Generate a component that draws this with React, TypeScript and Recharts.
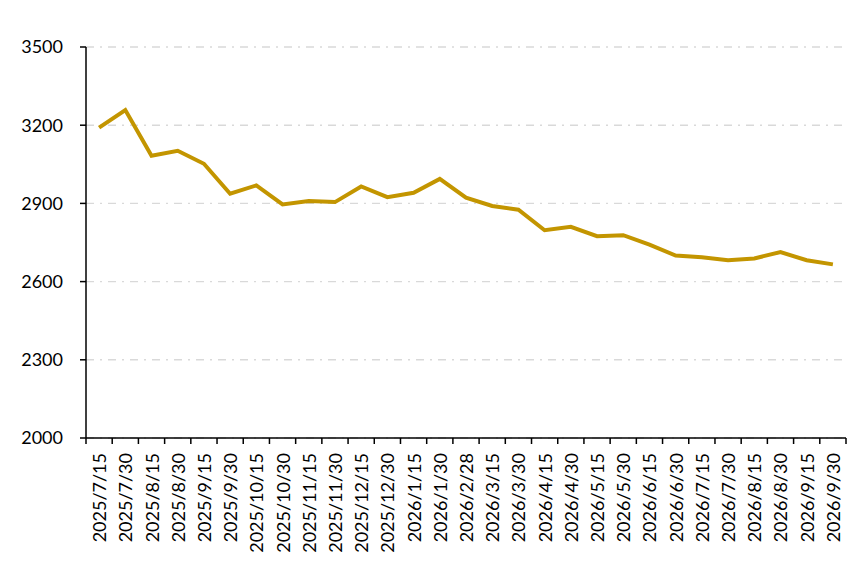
import React from "react";
import { LineChart, Line, XAxis, YAxis, CartesianGrid } from "recharts";

const dates = [
  "2025/7/15", "2025/7/30", "2025/8/15", "2025/8/30", "2025/9/15", "2025/9/30",
  "2025/10/15", "2025/10/30", "2025/11/15", "2025/11/30", "2025/12/15", "2025/12/30",
  "2026/1/15", "2026/1/30", "2026/2/28", "2026/3/15", "2026/3/30", "2026/4/15",
  "2026/4/30", "2026/5/15", "2026/5/30", "2026/6/15", "2026/6/30", "2026/7/15",
  "2026/7/30", "2026/8/15", "2026/8/30", "2026/9/15", "2026/9/30",
];

const prices = [
  3191, 3258, 3083, 3102, 3052, 2937, 2969, 2896, 2909, 2905, 2965, 2924,
  2941, 2994, 2922, 2890, 2876, 2797, 2810, 2774, 2778, 2742, 2700, 2693,
  2682, 2689, 2713, 2682, 2666,
];

const yTicks = [2000, 2300, 2600, 2900, 3200, 3500];

const data = dates.map((d, i) => ({ date: d, value: prices[i] }));

const FONT = "Lato, 'Open Sans', sans-serif";
const PLOT_LEFT = 86;
const PLOT_RIGHT = 846;
const STEP = (PLOT_RIGHT - PLOT_LEFT) / dates.length;

function DateTick(props: any) {
  const { x, y, payload, index } = props;
  const left = x - STEP / 2;
  return (
    <g>
      <line x1={left} y1={y - 8} x2={left} y2={y - 2} stroke="#000" strokeWidth={1.5} />
      {index === dates.length - 1 && (
        <line x1={x + STEP / 2} y1={y - 8} x2={x + STEP / 2} y2={y - 2} stroke="#000" strokeWidth={1.5} />
      )}
      <text
        x={0}
        y={0}
        transform={`translate(${x}, ${y + 7}) rotate(-90)`}
        textAnchor="end"
        dominantBaseline="central"
        fontFamily={FONT}
        fontSize={18}
        fill="#000"
      >
        {payload.value}
      </text>
    </g>
  );
}

export default function App() {
  return (
    <div style={{ position: "absolute", left: 0, top: 0, width: 865, height: 561, background: "#fff" }}>
      <LineChart
        width={865}
        height={561}
        data={data}
        margin={{ top: 47, right: 865 - PLOT_RIGHT, bottom: 0, left: 0 }}
      >
        <CartesianGrid
          vertical={false}
          stroke="#D9D9D9"
          strokeWidth={1.4}
          strokeDasharray="8 6 2 6"
        />
        <XAxis
          dataKey="date"
          scale="band"
          interval={0}
          height={123}
          axisLine={{ stroke: "#000", strokeWidth: 1.5 }}
          tickLine={false}
          tick={<DateTick />}
        />
        <YAxis
          domain={[2000, 3500]}
          ticks={yTicks}
          width={PLOT_LEFT}
          axisLine={{ stroke: "#000", strokeWidth: 1.5 }}
          tickLine={{ stroke: "#000", strokeWidth: 1.5 }}
          tickSize={6}
          tickMargin={17}
          tick={{ fontFamily: FONT, fontSize: 18, fill: "#000" }}
        />
        <Line
          type="linear"
          dataKey="value"
          stroke="#C39500"
          strokeWidth={4}
          dot={false}
          isAnimationActive={false}
        />
      </LineChart>
    </div>
  );
}
